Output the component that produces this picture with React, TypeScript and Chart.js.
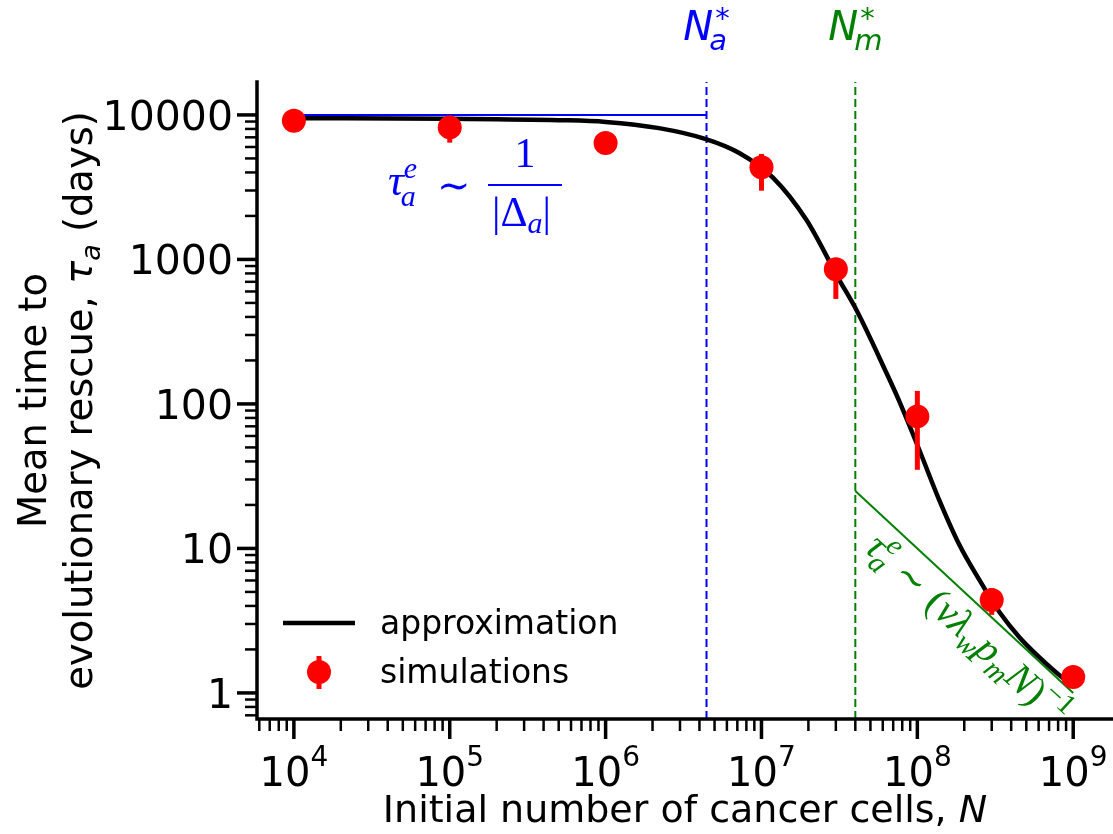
import React, { useEffect, useRef } from "react";
import { Chart, registerables } from "chart.js";
Chart.register(...registerables);

// ---- data ----
const simN = [1e4, 1e5, 1e6, 1e7, 3e7, 1e8, 3e8, 1e9];
const simTau = [9100, 8200, 6400, 4350, 855, 82, 4.4, 1.29];
const simLow = [8800, 6430, 6000, 2990, 533, 35, 3.47, 1.2];
const simHigh = [9400, 9900, 6800, 5370, 1000, 123, 5.3, 1.38];

const approxN = [1e4, 1e5, 5e5, 1e6, 2.2e6, 4.4e6, 7.2e6, 1.18e7, 1.94e7, 3.16e7, 4.06e7, 6.3e7, 7.7e7, 1.03e8, 1.38e8, 1.86e8, 2.5e8, 3.36e8, 4.5e8, 6.05e8, 8.75e8, 1e9];
const approxTau = [9500, 9400, 9200, 8950, 8100, 6800, 5450, 3700, 1880, 720, 448, 166, 103, 48, 21.7, 10.6, 6.05, 3.63, 2.44, 1.77, 1.25, 1.14];

const plateauN = [1e4, 4.44e6];
const plateauTau = [1e4, 1e4];
const asymN = [4.0e7, 1e9];
const asymTau = [25, 1];
const Na = 4.44e6;
const Nm = 4.0e7;

const xMin = 5.8e3, xMax = 1.8e9;
const yMin = 0.66, yMax = 16900;

const xMajor = [1e4, 1e5, 1e6, 1e7, 1e8, 1e9];
const xMajorExp = ["4", "5", "6", "7", "8", "9"];
const yMajor = [1, 10, 100, 1000, 10000];
const yMajorLabels = ["1", "10", "100", "1000", "10000"];

const BLUE = "#0000ff";
const GREEN = "#008000";
const RED = "#ff0000";
const SANS = '"DejaVu Sans"';
const SERIF = '"Liberation Serif", "DejaVu Serif"';

type Piece = { t: string; f: string; dy?: number; dx?: number; keep?: boolean };

function runPieces(ctx: CanvasRenderingContext2D, pieces: Piece[], x: number, y: number, draw: boolean) {
  let cx = x;
  let maxEnd = x;
  for (const p of pieces) {
    ctx.font = p.f;
    const px = cx + (p.dx || 0);
    if (draw) ctx.fillText(p.t, px, y + (p.dy || 0));
    const end = px + ctx.measureText(p.t).width;
    if (p.keep) {
      maxEnd = Math.max(maxEnd, end);
    } else {
      cx = Math.max(end, maxEnd);
      maxEnd = cx;
    }
  }
  return cx - x;
}

function minorTicks(min: number, max: number) {
  const out: number[] = [];
  for (let e = Math.floor(Math.log10(min)); e <= Math.ceil(Math.log10(max)); e++) {
    for (let m = 2; m <= 9; m++) {
      const v = m * Math.pow(10, e);
      if (v >= min && v <= max) out.push(v);
    }
  }
  return out;
}

const decor = {
  id: "decor",
  afterDraw(chart: any) {
    const ctx: CanvasRenderingContext2D = chart.ctx;
    const xs = chart.scales.x;
    const ys = chart.scales.y;
    const area = chart.chartArea;
    ctx.save();

    // error bars + markers
    ctx.strokeStyle = RED;
    ctx.lineWidth = 5;
    for (let i = 0; i < simN.length; i++) {
      const x = xs.getPixelForValue(simN[i]);
      ctx.beginPath();
      ctx.moveTo(x, ys.getPixelForValue(simLow[i]));
      ctx.lineTo(x, ys.getPixelForValue(simHigh[i]));
      ctx.stroke();
    }
    ctx.fillStyle = RED;
    for (let i = 0; i < simN.length; i++) {
      ctx.beginPath();
      ctx.arc(xs.getPixelForValue(simN[i]), ys.getPixelForValue(simTau[i]), 12, 0, Math.PI * 2);
      ctx.fill();
    }

    // spines
    ctx.strokeStyle = "#000";
    ctx.lineWidth = 3.5;
    ctx.lineCap = "square";
    ctx.beginPath();
    ctx.moveTo(area.left, area.top);
    ctx.lineTo(area.left, area.bottom);
    ctx.lineTo(area.right, area.bottom);
    ctx.stroke();
    ctx.lineCap = "butt";

    // ticks
    const drawXTick = (v: number, len: number, w: number) => {
      const x = xs.getPixelForValue(v);
      ctx.lineWidth = w;
      ctx.beginPath();
      ctx.moveTo(x, area.bottom);
      ctx.lineTo(x, area.bottom + len);
      ctx.stroke();
    };
    const drawYTick = (v: number, len: number, w: number) => {
      const y = ys.getPixelForValue(v);
      ctx.lineWidth = w;
      ctx.beginPath();
      ctx.moveTo(area.left, y);
      ctx.lineTo(area.left - len, y);
      ctx.stroke();
    };
    minorTicks(xMin, xMax).forEach((v) => drawXTick(v, 12, 2.5));
    xMajor.forEach((v) => drawXTick(v, 20, 3.5));
    minorTicks(yMin, yMax).forEach((v) => drawYTick(v, 12, 2.5));
    yMajor.forEach((v) => drawYTick(v, 20, 3.5));

    // tick labels
    ctx.fillStyle = "#000";
    ctx.textBaseline = "alphabetic";
    ctx.textAlign = "left";
    xMajor.forEach((v, i) => {
      const x = xs.getPixelForValue(v);
      const pieces: Piece[] = [
        { t: "10", f: `40px ${SANS}` },
        { t: xMajorExp[i], f: `28px ${SANS}`, dy: -20 },
      ];
      const w = runPieces(ctx, pieces, 0, 0, false);
      runPieces(ctx, pieces, x - w / 2, 786, true);
    });
    ctx.font = `41px ${SANS}`;
    ctx.textAlign = "right";
    yMajor.forEach((v, i) => {
      const y = ys.getPixelForValue(v);
      ctx.fillText(yMajorLabels[i], 233, y + 15);
    });
    ctx.textAlign = "left";

    // x axis label
    {
      const pieces: Piece[] = [
        { t: "Initial number of cancer cells, ", f: `38px ${SANS}` },
        { t: "N", f: `italic 38px ${SANS}` },
      ];
      const w = runPieces(ctx, pieces, 0, 0, false);
      runPieces(ctx, pieces, (area.left + area.right) / 2 - w / 2, 822, true);
    }
    // y axis label
    {
      const cy = (area.top + area.bottom) / 2;
      ctx.save();
      ctx.translate(46, cy);
      ctx.rotate(-Math.PI / 2);
      const l1: Piece[] = [{ t: "Mean time to", f: `38.5px ${SANS}` }];
      let w = runPieces(ctx, l1, 0, 0, false);
      runPieces(ctx, l1, -w / 2, 0, true);
      const l2: Piece[] = [
        { t: "evolutionary rescue, ", f: `38.5px ${SANS}` },
        { t: "τ", f: `italic 38.5px ${SANS}` },
        { t: "a", f: `italic 27px ${SANS}`, dy: 8 },
        { t: " (days)", f: `38.5px ${SANS}` },
      ];
      w = runPieces(ctx, l2, 0, 0, false);
      runPieces(ctx, l2, -w / 2, 46, true);
      ctx.restore();
    }

    // top labels N_a^*, N_m^*
    const topLabel = (xv: number, sub: string, color: string) => {
      ctx.fillStyle = color;
      const pieces: Piece[] = [
        { t: "N", f: `italic 40px ${SANS}` },
        { t: "*", f: `29px ${SANS}`, dy: -12, dx: 2, keep: true },
        { t: sub, f: `italic 29px ${SANS}`, dy: 10, dx: -4 },
      ];
      const w = runPieces(ctx, pieces, 0, 0, false);
      runPieces(ctx, pieces, xs.getPixelForValue(xv) - w / 2, 40, true);
    };
    topLabel(Na, "a", BLUE);
    topLabel(Nm, "m", GREEN);

    // blue formula
    ctx.fillStyle = BLUE;
    runPieces(
      ctx,
      [
        { t: "τ", f: `italic 44px ${SERIF}` },
        { t: "e", f: `italic 30px ${SERIF}`, dy: -17, keep: true },
        { t: "a", f: `italic 30px ${SERIF}`, dy: 11, dx: -3 },
      ],
      388,
      195,
      true
    );
    ctx.font = `40px "DejaVu Serif"`;
    ctx.fillText("∼", 437, 199);
    ctx.strokeStyle = BLUE;
    ctx.lineWidth = 2;
    ctx.beginPath();
    ctx.moveTo(488, 185);
    ctx.lineTo(562, 185);
    ctx.stroke();
    ctx.font = `42px ${SERIF}`;
    ctx.textAlign = "center";
    ctx.fillText("1", 525, 167);
    ctx.textAlign = "left";
    runPieces(
      ctx,
      [
        { t: "|", f: `42px ${SERIF}` },
        { t: "Δ", f: `42px ${SERIF}` },
        { t: "a", f: `italic 30px ${SERIF}`, dy: 7 },
        { t: "|", f: `42px ${SERIF}` },
      ],
      492,
      226,
      true
    );

    // green rotated formula
    {
      const x0 = xs.getPixelForValue(asymN[0]);
      const y0 = ys.getPixelForValue(asymTau[0]);
      const x1 = xs.getPixelForValue(asymN[1]);
      const y1 = ys.getPixelForValue(asymTau[1]);
      const ang = Math.atan2(y1 - y0, x1 - x0);
      ctx.save();
      ctx.translate(x0, y0);
      ctx.rotate(ang);
      ctx.fillStyle = GREEN;
      runPieces(
        ctx,
        [
          { t: "τ", f: `italic 40px ${SERIF}` },
          { t: "e", f: `italic 29px ${SERIF}`, dy: -16, keep: true },
          { t: "a", f: `italic 29px ${SERIF}`, dy: 9, dx: -2 },
          { t: " ∼ ", f: `37px "DejaVu Serif"` },
          { t: "(", f: `40px ${SERIF}` },
          { t: "v", f: `italic 40px ${SERIF}` },
          { t: "λ", f: `italic 40px ${SERIF}` },
          { t: "w", f: `italic 29px ${SERIF}`, dy: 8 },
          { t: "p", f: `italic 40px ${SERIF}` },
          { t: "m", f: `italic 29px ${SERIF}`, dy: 8 },
          { t: "N", f: `italic 40px ${SERIF}` },
          { t: ")", f: `40px ${SERIF}` },
          { t: "−1", f: `29px ${SERIF}`, dy: -16 },
        ],
        46,
        38,
        true
      );
      ctx.restore();
    }

    // legend
    ctx.strokeStyle = "#000";
    ctx.lineWidth = 4.5;
    ctx.beginPath();
    ctx.moveTo(283, 623);
    ctx.lineTo(355, 623);
    ctx.stroke();
    ctx.strokeStyle = RED;
    ctx.lineWidth = 5;
    ctx.beginPath();
    ctx.moveTo(319, 656);
    ctx.lineTo(319, 689);
    ctx.stroke();
    ctx.fillStyle = RED;
    ctx.beginPath();
    ctx.arc(319, 672, 12, 0, Math.PI * 2);
    ctx.fill();
    ctx.fillStyle = "#000";
    ctx.font = `33px ${SANS}`;
    ctx.fillText("approximation", 380, 634);
    ctx.fillText("simulations", 380, 683);

    ctx.restore();
  },
};

export default function App() {
  const ref = useRef<HTMLCanvasElement | null>(null);
  useEffect(() => {
    document.body.style.margin = "0";
    const canvas = ref.current!;
    const chart = new Chart(canvas, {
      type: "line",
      data: {
        datasets: [
          {
            label: "Na",
            data: [{ x: Na, y: yMin }, { x: Na, y: yMax }],
            borderColor: BLUE,
            borderWidth: 2,
            borderDash: [8, 4],
            pointRadius: 0,
            order: 6,
          },
          {
            label: "Nm",
            data: [{ x: Nm, y: yMin }, { x: Nm, y: yMax }],
            borderColor: GREEN,
            borderWidth: 2,
            borderDash: [8, 4],
            pointRadius: 0,
            order: 6,
          },
          {
            label: "plateau",
            data: plateauN.map((x, i) => ({ x, y: plateauTau[i] })),
            borderColor: BLUE,
            borderWidth: 2,
            pointRadius: 0,
            order: 5,
          },
          {
            label: "asymptote",
            data: asymN.map((x, i) => ({ x, y: asymTau[i] })),
            borderColor: GREEN,
            borderWidth: 2,
            pointRadius: 0,
            order: 5,
          },
          {
            label: "approximation",
            data: approxN.map((x, i) => ({ x, y: approxTau[i] })),
            borderColor: "#000",
            borderWidth: 4.5,
            pointRadius: 0,
            cubicInterpolationMode: "monotone",
            order: 3,
          },
        ] as any,
      },
      options: {
        animation: false,
        responsive: false,
        events: [],
        layout: { padding: { left: 257, top: 82, right: 0, bottom: 115 } },
        scales: {
          x: { type: "logarithmic", min: xMin, max: xMax, display: false },
          y: { type: "logarithmic", min: yMin, max: yMax, display: false },
        },
        plugins: { legend: { display: false }, tooltip: { enabled: false }, title: { display: false } },
      },
      plugins: [decor],
    });
    return () => chart.destroy();
  }, []);
  return (
    <div style={{ width: 1113, height: 834, background: "#fff" }}>
      <canvas ref={ref} width={1113} height={834} style={{ display: "block" }} />
    </div>
  );
}
